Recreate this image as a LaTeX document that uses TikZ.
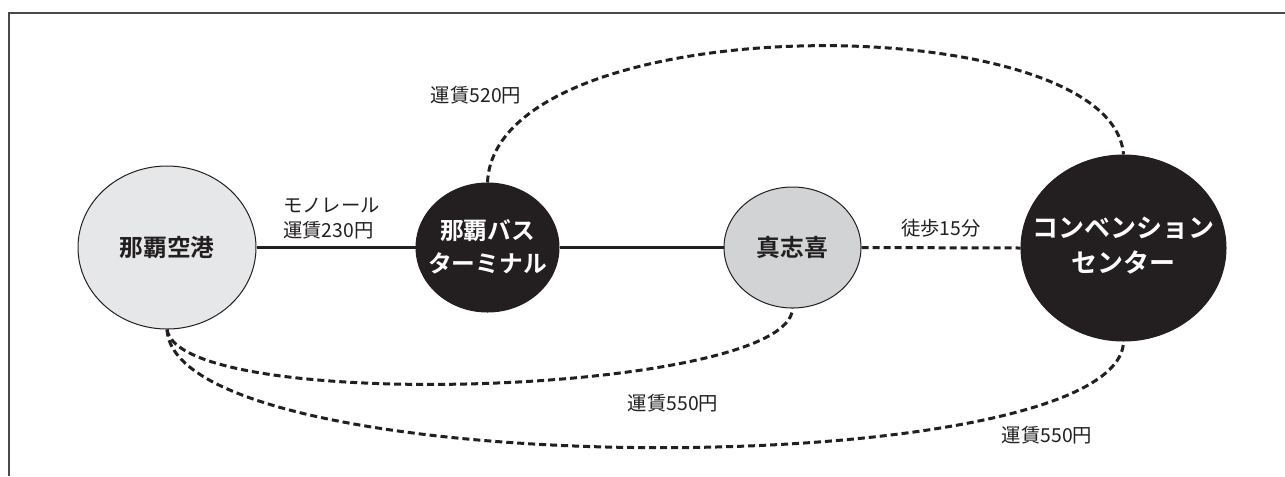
\documentclass[tikz,border=0pt]{standalone}
\usepackage{fontspec}
\setmainfont{Noto Sans CJK JP}[BoldFont={Noto Sans CJK JP Bold}]
\usetikzlibrary{shapes.geometric}
\definecolor{ink}{HTML}{231F20}
\definecolor{lightfill}{HTML}{E6E7E8}
\definecolor{midfill}{HTML}{D1D3D4}
\definecolor{framecol}{HTML}{4A4A4A}
\tikzset{
  station/.style={ellipse, inner sep=0pt, line width=0.75pt, draw=ink},
  graystation/.style={station, fill=lightfill},
  darkstation/.style={station, fill=ink},
  nametext/.style={font=\bfseries\fontsize{17.8pt}{24.75pt}\selectfont, align=center, text=ink, inner sep=0pt},
  whitetext/.style={nametext, text=white},
  faretext/.style={font=\fontsize{14.5pt}{18.75pt}\selectfont, text=ink, inner sep=0pt},
  solidline/.style={line width=2.25pt, draw=ink},
  dashline/.style={line width=2.25pt, draw=ink, dash pattern=on 5.25pt off 3pt},
}
\begin{document}
\begin{tikzpicture}[x=0.75pt, y=-0.75pt]
\useasboundingbox (0,0) rectangle (1285,476);
\fill[white] (0,0) rectangle (1285,476);
% frame
\coordinate (ftr) at (1285,13);
\coordinate (ftl) at (9,13);
\coordinate (fbl) at (9,476);
\draw[framecol, line width=1.1pt] (ftr) -- (ftl) -- (fbl);
% stations
\node[graystation, minimum width=133.5pt, minimum height=122.25pt,
      label={[nametext]center:那覇空港}] (air) at (167,247.5) {};
\node[darkstation, minimum width=107.25pt, minimum height=96.75pt,
      label={[whitetext, yshift=0.5pt]center:那覇バス\\ターミナル}] (bus) at (487.5,247.5) {};
\node[station, fill=midfill, minimum width=102.75pt, minimum height=90.75pt,
      label={[nametext]center:真志喜}] (maki) at (792.5,247.5) {};
\node[darkstation, minimum width=153.75pt, minimum height=139.5pt,
      label={[whitetext, font=\bfseries\fontsize{19.5pt}{26.25pt}\selectfont, yshift=2pt]center:コンベンション\\センター}] (conv) at (1123.5,248) {};
% connectors
\draw[solidline] (air.east) -- (bus.west);
\draw[solidline] (bus.east) -- (maki.west);
\draw[dashline] (maki.east) -- (conv.west);
\draw[dashline] (bus.north) .. controls (495,5) and (1112,5) .. (conv.north);
\draw[dashline] (air.south) .. controls (180,415) and (790,395) .. (maki.south);
\draw[dashline] (air.south) .. controls (175,485) and (1120,485) .. (conv.south);
% fare labels
\node[faretext, anchor=west, align=left] (mono) at (283,219) {モノレール\\運賃230円};
\node[faretext] (fare520) at (476,95) {運賃520円};
\node[faretext] (walk) at (941,228) {徒歩15分};
\node[faretext] (fare550a) at (673,403) {運賃550円};
\node[faretext] (fare550b) at (1047,435) {運賃550円};
\end{tikzpicture}
\end{document}
